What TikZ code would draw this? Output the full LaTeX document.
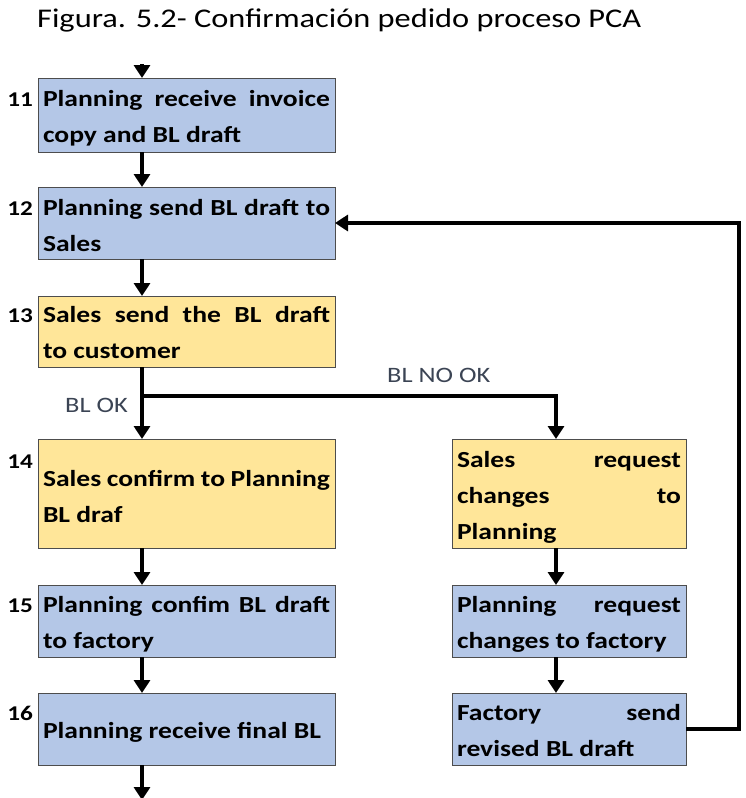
\documentclass[tikz,border=0pt]{standalone}
\usepackage{fontspec}
\setmainfont{Carlito}[FakeStretch=1.2]
\usetikzlibrary{arrows.meta}

\definecolor{boxblue}{HTML}{B4C7E7}
\definecolor{boxyellow}{HTML}{FFE699}
\definecolor{boxline}{HTML}{4D4D4D}
\definecolor{labelgray}{HTML}{3B4454}

% one justified line of a box text
\newcommand\jline[2]{\makebox[#1][s]{#2}}
% box text: width, height, first baseline below the top, lines
\newcommand\boxtext[4]{%
  \parbox[c][#2][t]{#1}{\fontsize{23}{36}\selectfont\bfseries\rule{0pt}{#3}#4}}

\tikzset{
  stepbox/.style={draw=boxline, line width=1pt, inner xsep=5pt, inner ysep=0pt,
    outer sep=0pt, anchor=north west},
  bluebox/.style={stepbox, fill=boxblue},
  yellowbox/.style={stepbox, fill=boxyellow},
  num/.style={anchor=base east, inner sep=0pt, font=\fontsize{21}{21}\selectfont\bfseries},
  lab/.style={inner sep=0pt, text=labelgray, font=\fontsize{22}{22}\selectfont},
  flow/.style={line width=4.5pt, line join=miter, -{Triangle[length=13pt,width=16pt]}},
}

\begin{document}
\begin{tikzpicture}[x=1pt, y=-1pt]
\useasboundingbox (0,0) rectangle (746,798);

\node[anchor=base west, inner sep=0pt, font=\fontsize{27}{27}\selectfont] (title) at (37,27)
  {Figura. 5.2- Confirmación pedido proceso PCA};

% left column
\node[bluebox] (b11) at (38,78)
  {\boxtext{287pt}{74pt}{28pt}{\jline{287pt}{Planning receive invoice}\\copy and BL draft}};
\node[bluebox] (b12) at (38,187)
  {\boxtext{287pt}{72pt}{28pt}{\jline{287pt}{Planning send BL draft to}\\Sales}};
\node[yellowbox] (b13) at (38,296)
  {\boxtext{287pt}{71pt}{26pt}{\jline{287pt}{Sales send the BL draft}\\to customer}};
\node[yellowbox] (b14) at (38,439)
  {\boxtext{287pt}{109pt}{47pt}{Sales confirm to Planning\\BL draf}};
\node[bluebox] (b15) at (38,585)
  {\boxtext{287pt}{72pt}{27pt}{\jline{287pt}{Planning confim BL draft}\\to factory}};
\node[bluebox] (b16) at (38,693)
  {\boxtext{287pt}{72pt}{45pt}{Planning receive final BL}};

% right column
\node[yellowbox] (r1) at (452,439)
  {\boxtext{224pt}{109pt}{28pt}{\jline{224pt}{Sales request}\\\jline{224pt}{changes to}\\Planning}};
\node[bluebox] (r2) at (452,585)
  {\boxtext{224pt}{72pt}{27pt}{\jline{224pt}{Planning request}\\changes to factory}};
\node[bluebox] (r3) at (452,693)
  {\boxtext{224pt}{72pt}{27pt}{\jline{224pt}{Factory send}\\revised BL draft}};

% step numbers
\node[num] (n11) at (33,106) {11};
\node[num] (n12) at (33,215) {12};
\node[num] (n13) at (33,322) {13};
\node[num] (n14) at (33,468) {14};
\node[num] (n15) at (33,612) {15};
\node[num] (n16) at (33,720) {16};

% branch labels
\node[lab, anchor=base east] (ok) at (128,412) {BL OK};
\node[lab, anchor=base west] (nok) at (387,382) {BL NO OK};

% connector guides
\coordinate (axL) at (142,0);
\coordinate (axR) at (556,0);
\coordinate (entry) at (142,64);
\coordinate (exit) at (142,800);
\coordinate (split) at (142,396);
\coordinate (fb) at (739,0);

\draw[flow] (entry) -- (b11.north -| axL);
\draw[flow] (b11.south -| axL) -- (b12.north -| axL);
\draw[flow] (b12.south -| axL) -- (b13.north -| axL);
\draw[flow] (b13.south -| axL) -- (b14.north -| axL);
\draw[flow] (split) -| (r1.north -| axR);
\draw[flow] (b14.south -| axL) -- (b15.north -| axL);
\draw[flow] (b15.south -| axL) -- (b16.north -| axL);
\draw[flow] (b16.south -| axL) -- (exit);
\draw[flow] (r1.south -| axR) -- (r2.north -| axR);
\draw[flow] (r2.south -| axR) -- (r3.north -| axR);
\draw[flow] (r3.east) -| (fb |- b12.east) -- (b12.east);
\end{tikzpicture}
\end{document}
